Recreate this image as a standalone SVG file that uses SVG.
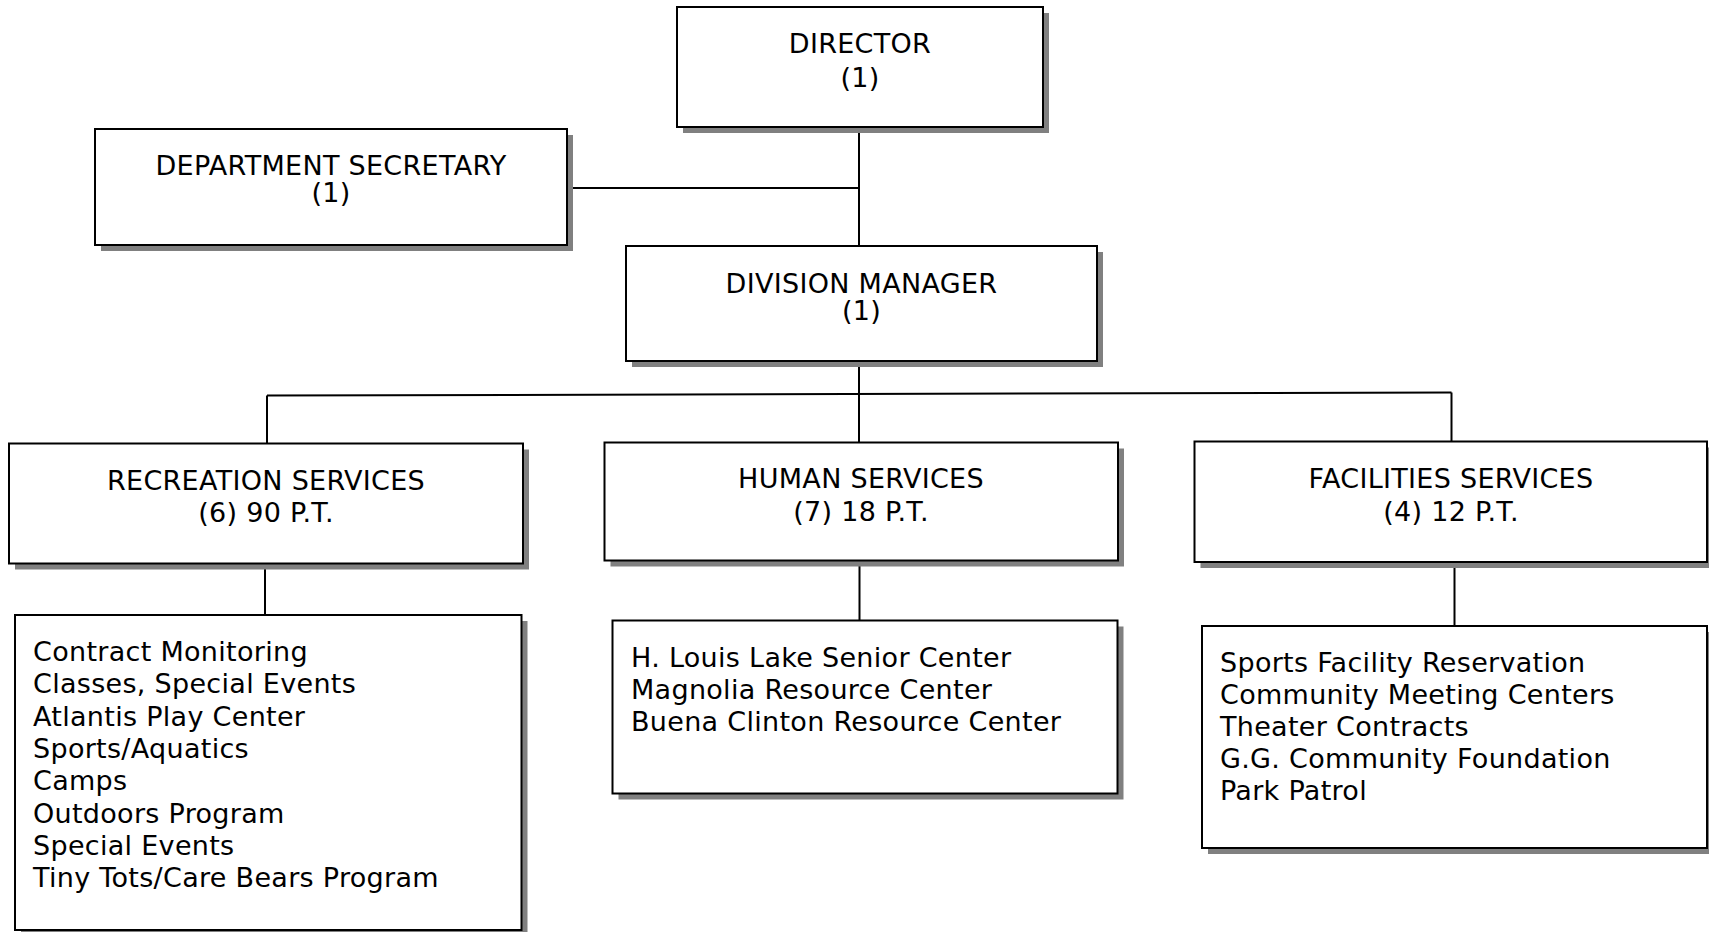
<svg xmlns="http://www.w3.org/2000/svg" width="1709" height="932" viewBox="0 0 1709 932">
<style>
.bg{fill:#ffffff}
.sh{fill:#808080}
.box{fill:#ffffff;stroke:#000000;stroke-width:2}
.ln{fill:none;stroke:#000000;stroke-width:2}
.t{font-family:"DejaVu Sans",Verdana,sans-serif;font-size:27px;letter-spacing:0.3px;fill:#000000}
.c{text-anchor:middle}
.l{font-size:27px}
</style>
<rect class="bg" x="0" y="0" width="1709" height="932"/>
<g id="connectors">
<line class="ln" x1="859" y1="127" x2="859" y2="246"/>
<line class="ln" x1="567" y1="188" x2="859" y2="188"/>
<line class="ln" x1="859" y1="361" x2="859" y2="394"/>
<line class="ln" x1="267" y1="395.5" x2="1451.5" y2="392.5"/>
<line class="ln" x1="267" y1="395.5" x2="267" y2="443.5"/>
<line class="ln" x1="859" y1="394" x2="859" y2="442.5"/>
<line class="ln" x1="1451.5" y1="392.5" x2="1451.5" y2="441.5"/>
<line class="ln" x1="265" y1="563.5" x2="265" y2="615"/>
<line class="ln" x1="859.5" y1="560.5" x2="859.5" y2="620.5"/>
<line class="ln" x1="1454.5" y1="562" x2="1454.5" y2="626"/>
</g>
<g id="director">
<rect class="sh" x="683" y="13" width="366" height="120"/>
<rect class="box" x="677" y="7" width="366" height="120"/>
<text class="t c" x="860" y="53">DIRECTOR</text>
<text class="t c" x="860" y="87">(1)</text>
</g>
<g id="department-secretary">
<rect class="sh" x="101" y="135" width="472" height="116"/>
<rect class="box" x="95" y="129" width="472" height="116"/>
<text class="t c" x="331" y="175">DEPARTMENT SECRETARY</text>
<text class="t c" x="331" y="202">(1)</text>
</g>
<g id="division-manager">
<rect class="sh" x="632" y="252" width="471" height="115"/>
<rect class="box" x="626" y="246" width="471" height="115"/>
<text class="t c" x="861.5" y="293">DIVISION MANAGER</text>
<text class="t c" x="861.5" y="320">(1)</text>
</g>
<g id="recreation-services">
<rect class="sh" x="15" y="449.5" width="514" height="120"/>
<rect class="box" x="9" y="443.5" width="514" height="120"/>
<text class="t c" x="266" y="489.5">RECREATION SERVICES</text>
<text class="t c" x="266" y="521.5">(6) 90 P.T.</text>
</g>
<g id="human-services">
<rect class="sh" x="610.5" y="448.5" width="513.5" height="118"/>
<rect class="box" x="604.5" y="442.5" width="513.5" height="118"/>
<text class="t c" x="861" y="488">HUMAN SERVICES</text>
<text class="t c" x="861" y="520.5">(7) 18 P.T.</text>
</g>
<g id="facilities-services">
<rect class="sh" x="1200.5" y="447.5" width="512.5" height="120.5"/>
<rect class="box" x="1194.5" y="441.5" width="512.5" height="120.5"/>
<text class="t c" x="1451" y="488">FACILITIES SERVICES</text>
<text class="t c" x="1451" y="520.5">(4) 12 P.T.</text>
</g>
<g id="recreation-programs">
<rect class="sh" x="21" y="621" width="506.5" height="315"/>
<rect class="box" x="15" y="615" width="506.5" height="315"/>
<text class="t l" x="33" y="661">Contract Monitoring</text>
<text class="t l" x="33" y="693.3">Classes, Special Events</text>
<text class="t l" x="33" y="725.6">Atlantis Play Center</text>
<text class="t l" x="33" y="757.9">Sports/Aquatics</text>
<text class="t l" x="33" y="790.2">Camps</text>
<text class="t l" x="33" y="822.5">Outdoors Program</text>
<text class="t l" x="33" y="854.8">Special Events</text>
<text class="t l" x="33" y="887.1">Tiny Tots/Care Bears Program</text>
</g>
<g id="human-programs">
<rect class="sh" x="618.5" y="626.5" width="505" height="173"/>
<rect class="box" x="612.5" y="620.5" width="505" height="173"/>
<text class="t l" x="631" y="667">H. Louis Lake Senior Center</text>
<text class="t l" x="631" y="699">Magnolia Resource Center</text>
<text class="t l" x="631" y="731">Buena Clinton Resource Center</text>
</g>
<g id="facilities-programs">
<rect class="sh" x="1208" y="632" width="505" height="222"/>
<rect class="box" x="1202" y="626" width="505" height="222"/>
<text class="t l" x="1220" y="672">Sports Facility Reservation</text>
<text class="t l" x="1220" y="704">Community Meeting Centers</text>
<text class="t l" x="1220" y="736">Theater Contracts</text>
<text class="t l" x="1220" y="768">G.G. Community Foundation</text>
<text class="t l" x="1220" y="800">Park Patrol</text>
</g>
</svg>
